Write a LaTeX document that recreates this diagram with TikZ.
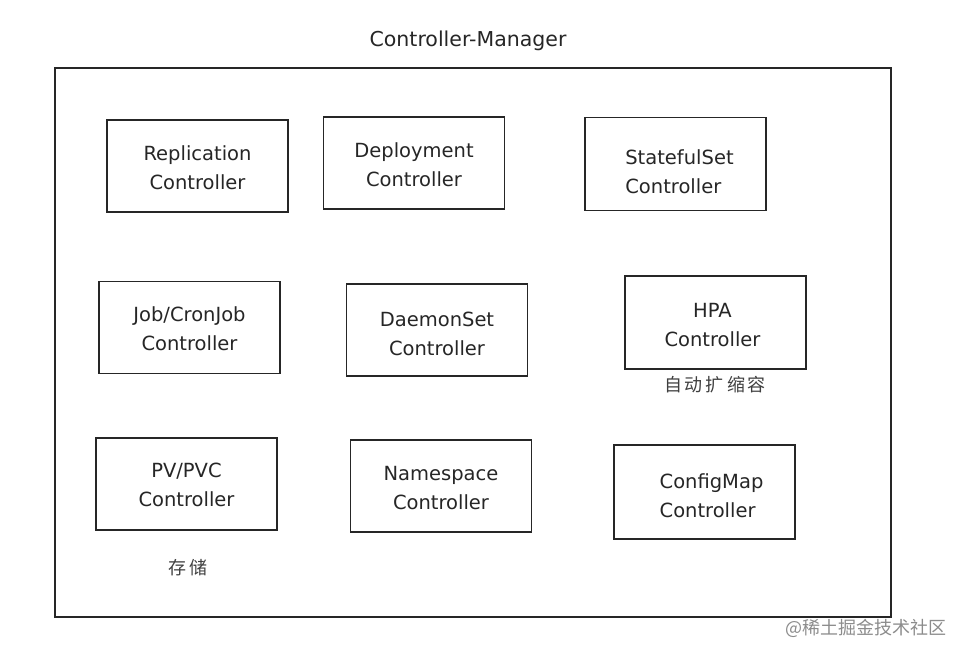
\documentclass[tikz,border=0pt]{standalone}
\usepackage{fontspec}
\setmainfont{DejaVu Sans}
\newfontfamily\cjk{Noto Sans CJK SC}
\newcommand{\cs}{\hspace{3pt}}
\begin{document}
\begin{tikzpicture}[x=1pt,y=-1pt,
  ctrl/.style={draw=black!85, line width=1.4pt, minimum width=181pt, minimum height=92pt,
    inner sep=0pt},
  lbl/.style={align=center, font=\fontsize{19.5}{29}\selectfont, text=black!85, inner sep=0pt},
  note/.style={font=\cjk\fontsize{18}{20}\selectfont, text=black!75}]
\useasboundingbox (0,0) rectangle (954,645);
\fill[white] (0,0) rectangle (954,645);
\node[font=\fontsize{20.5}{24}\selectfont, text=black!85] (title) at (468,41) {Controller-Manager};
\draw[black!85, line width=1.4pt] (55,68) rectangle (891,617);
\node[ctrl, label={[lbl, yshift=-1.5pt]center:Replication\\Controller}] (rc) at (197.5,166) {};
\node[ctrl, label={[lbl, yshift=-2pt]center:Deployment\\Controller}] (dc) at (414,163) {};
\node[ctrl, minimum height=93pt, label={[lbl, align=left, xshift=4pt, yshift=-7.5pt]center:StatefulSet\\Controller}] (sc) at (675.5,164) {};
\node[ctrl, label={[lbl, yshift=-1pt]center:Job/CronJob\\Controller}] (jc) at (189.5,327.5) {};
\node[ctrl, label={[lbl, yshift=-3.5pt]center:DaemonSet\\Controller}] (ds) at (437,330) {};
\node[ctrl, minimum height=93pt, label={[lbl, xshift=-3pt, yshift=-3pt]center:HPA\\Controller}] (hpa) at (715.5,322.5) {};
\node[ctrl, label={[lbl, yshift=-1pt]center:PV/PVC\\Controller}] (pv) at (186.5,484) {};
\node[ctrl, label={[lbl, yshift=-2pt]center:Namespace\\Controller}] (ns) at (441,486) {};
\node[ctrl, minimum height=94pt, label={[lbl, align=left, xshift=7pt, yshift=-4pt]center:ConfigMap\\Controller}] (cm) at (704.5,492) {};
\node[note] (hpanote) at (715,385) {自\cs 动\cs 扩\cs 缩\cs 容};
\node[note] (pvnote) at (188,568) {存\cs 储};
\node[font=\cjk\fontsize{18}{20}\selectfont, text=black!45] (wm) at (866,628) {@稀土掘金技术社区};
\end{tikzpicture}
\end{document}
